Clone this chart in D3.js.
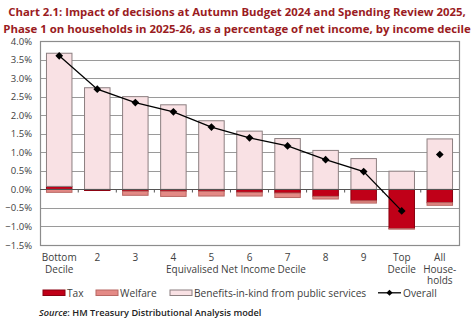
<!DOCTYPE html>
<html>
<head>
<meta charset="utf-8">
<script src="https://cdn.jsdelivr.net/npm/d3@7"></script>
<style>
  html, body { margin: 0; padding: 0; background: #ffffff; }
  svg { display: block; font-family: "Open Sans", "DejaVu Sans", sans-serif; }
</style>
</head>
<body>
<svg id="chart" width="474" height="329"></svg>
<script>
// Decile categories (label lines)
const categories = [
  ["Bottom", "Decile"], ["2"], ["3"], ["4"], ["5"], ["6"], ["7"], ["8"], ["9"],
  ["Top", "Decile"], ["All", "House-", "holds"]
];
// Components, % of net income
const tax     = [ 0.08, -0.03, -0.05, -0.05, -0.05, -0.08, -0.10, -0.19, -0.31, -1.06, -0.36];
const welfare = [-0.08,  0.00, -0.11, -0.14, -0.13, -0.10, -0.12, -0.07, -0.06, -0.01, -0.07];
const bik     = [ 3.59,  2.74,  2.50,  2.28,  1.85,  1.57,  1.37,  1.05,  0.83,  0.49,  1.36];
const overall = [ 3.60,  2.70,  2.34,  2.09,  1.68,  1.39,  1.17,  0.80,  0.48, -0.58,  0.94];
const yTicks  = [-1.5, -1.0, -0.5, 0, 0.5, 1.0, 1.5, 2.0, 2.5, 3.0, 3.5, 4.0];

const seriesNames = ["Tax", "Welfare", "Benefits-in-kind from public services"];
const colours = { "Tax": "#c00018", "Welfare": "#e48a86", "Benefits-in-kind from public services": "#f9e1e4" };
const strokes = { "Tax": "#8a0010", "Welfare": "#b86763", "Benefits-in-kind from public services": "#8c7f80" };

const svg = d3.select("#chart");
const W = 474;
const plot = { left: 40, right: 459, top: 41, bottom: 245 };
const textCol = "#404040";

// Title
const titleCol = "#9a1b22";
const titleLines = [
  { text: "Chart 2.1: Impact of decisions at Autumn Budget 2024 and Spending Review 2025,", y: 16, width: 458 },
  { text: "Phase 1 on households in 2025-26, as a percentage of net income, by income decile", y: 33, width: 468 }
];
titleLines.forEach(l => {
  const t = svg.append("text")
    .attr("x", W / 2).attr("y", l.y)
    .attr("text-anchor", "middle")
    .attr("font-weight", 700)
    .attr("font-size", 12)
    .attr("fill", titleCol)
    .text(l.text);
  const natural = t.node().getComputedTextLength();
  t.attr("font-size", 12 * l.width / natural);
});

const keys = categories.map((c, i) => i);
const x = d3.scaleBand().domain(keys).range([plot.left, plot.right])
  .paddingInner(0.33).paddingOuter(0.17);
const y = d3.scaleLinear().domain([-1.5, 4.0]).range([plot.bottom, plot.top]);

// Gridlines
svg.append("g").selectAll("line").data(yTicks).join("line")
  .attr("x1", plot.left).attr("x2", plot.right)
  .attr("y1", d => Math.round(y(d)) + 0.5).attr("y2", d => Math.round(y(d)) + 0.5)
  .attr("stroke", "#9a9a9a").attr("stroke-width", 1);

// Plot frame
svg.append("rect")
  .attr("x", plot.left + 0.5).attr("y", Math.round(y(4.0)) + 0.5)
  .attr("width", plot.right - plot.left).attr("height", Math.round(y(-1.5)) - Math.round(y(4.0)))
  .attr("fill", "none").attr("stroke", "#8c8c8c").attr("stroke-width", 1.2);

// Y axis labels
const yAxis = d3.axisLeft(y).tickValues(yTicks).tickFormat(d => d3.format(".1f")(d) + "%").tickSize(0).tickPadding(8);
const gy = svg.append("g").attr("transform", `translate(${plot.left},0)`).call(yAxis);
gy.select(".domain").remove();
gy.selectAll("text").attr("font-size", 9.5).attr("fill", textCol).attr("font-family", "\"Open Sans\", sans-serif");

// Stacked bars: positives stack up from zero, negatives stack down
const comps = [tax, welfare, bik];
const rects = [];
keys.forEach(i => {
  let pos = 0, neg = 0;
  comps.forEach((arr, k) => {
    const v = arr[i];
    if (v === 0) return;
    let y0, y1;
    if (v > 0) { y0 = pos; y1 = pos + v; pos = y1; }
    else { y0 = neg; y1 = neg + v; neg = y1; }
    rects.push({ i, name: seriesNames[k], y0, y1 });
  });
});
svg.append("g").selectAll("rect").data(rects).join("rect")
  .attr("x", d => x(d.i))
  .attr("width", x.bandwidth())
  .attr("y", d => y(Math.max(d.y0, d.y1)))
  .attr("height", d => Math.abs(y(d.y0) - y(d.y1)))
  .attr("fill", d => colours[d.name])
  .attr("stroke", d => strokes[d.name])
  .attr("stroke-width", 1);

// Zero axis with category tick marks
const y0px = Math.round(y(0)) + 0.5;
svg.append("line")
  .attr("x1", plot.left).attr("x2", plot.right)
  .attr("y1", y0px).attr("y2", y0px)
  .attr("stroke", "#555555").attr("stroke-width", 1.2);
const step = x.step();
const bounds = d3.range(1, keys.length).map(k => x(k) - (step - x.bandwidth()) / 2);
svg.append("g").selectAll("line").data(bounds).join("line")
  .attr("x1", d => d).attr("x2", d => d)
  .attr("y1", y0px).attr("y2", y0px + 3)
  .attr("stroke", "#555555").attr("stroke-width", 1);

// Overall line across deciles (households average shown as a marker only)
const deciles = keys.slice(0, 10);
const line = d3.line().x(i => x(i) + x.bandwidth() / 2).y(i => y(overall[i]));
svg.append("path").datum(deciles)
  .attr("d", line).attr("fill", "none").attr("stroke", "#000").attr("stroke-width", 1.3);
const diamond = d3.symbol().type(d3.symbolDiamond2).size(38);
svg.append("g").selectAll("path").data(keys).join("path")
  .attr("transform", i => `translate(${x(i) + x.bandwidth() / 2},${y(overall[i])})`)
  .attr("d", diamond).attr("fill", "#000");

// X category labels
const xl = svg.append("g");
keys.forEach(i => {
  const t = xl.append("text")
    .attr("x", x(i) + x.bandwidth() / 2).attr("y", 261)
    .attr("text-anchor", "middle").attr("font-size", 10).attr("fill", textCol);
  categories[i].forEach((s, j) => {
    t.append("tspan").attr("x", x(i) + x.bandwidth() / 2).attr("dy", j === 0 ? 0 : 11.7).text(s);
  });
});
svg.append("text").attr("x", 236).attr("y", 273).attr("text-anchor", "middle")
  .attr("font-size", 10).attr("fill", textCol).text("Equivalised Net Income Decile");

// Legend
const lg = svg.append("g").attr("font-size", 10.2).attr("fill", textCol);
const legendItems = [
  { name: "Tax", sx: 43, tx: 67 },
  { name: "Welfare", sx: 96, tx: 120 },
  { name: "Benefits-in-kind from public services", sx: 170, tx: 194 }
];
legendItems.forEach(it => {
  lg.append("rect").attr("x", it.sx).attr("y", 290).attr("width", 22).attr("height", 5.5)
    .attr("fill", colours[it.name]).attr("stroke", strokes[it.name]).attr("stroke-width", 1);
  lg.append("text").attr("x", it.tx).attr("y", 296.8).text(it.name);
});
lg.append("line").attr("x1", 378).attr("x2", 401).attr("y1", 292.8).attr("y2", 292.8)
  .attr("stroke", "#000").attr("stroke-width", 1.3);
lg.append("path").attr("transform", "translate(389.5,292.8)").attr("d", d3.symbol().type(d3.symbolDiamond2).size(24)).attr("fill", "#000");
lg.append("text").attr("x", 403).attr("y", 296.8).text("Overall");

// Source note
const src = svg.append("text").attr("x", 39).attr("y", 316).attr("font-size", 9.2)
  .attr("font-weight", 600).attr("fill", "#222");
src.append("tspan").attr("font-style", "italic").text("Source");
src.append("tspan").text(": HM Treasury Distributional Analysis model");
</script>
</body>
</html>
